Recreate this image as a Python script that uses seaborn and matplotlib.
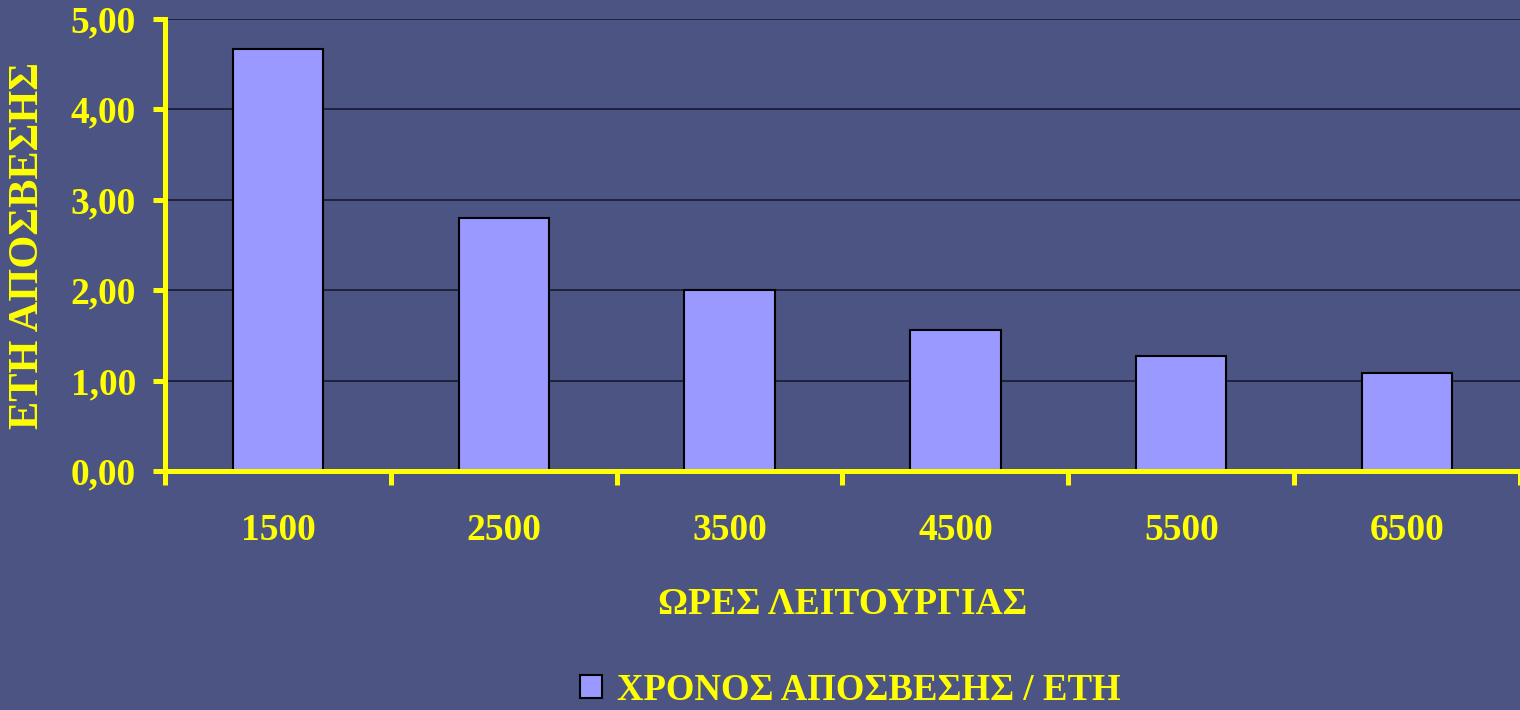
import numpy as np
import pandas as pd
import matplotlib
matplotlib.use("Agg")
import matplotlib.pyplot as plt
import seaborn as sns

# data
hours = ["1500", "2500", "3500", "4500", "5500", "6500"]
years = [4.67, 2.80, 2.00, 1.56, 1.27, 1.08]
series_name = "ΧΡΟΝΟΣ ΑΠΟΣΒΕΣΗΣ / ΕΤΗ"
x_title = "ΩΡΕΣ ΛΕΙΤΟΥΡΓΙΑΣ"
y_title = "ΕΤΗ ΑΠΟΣΒΕΣΗΣ"
y_ticks = [0, 1, 2, 3, 4, 5]

bg = "#4B5482"
bar_col = "#9999FF"
yellow = "#FFFF00"

sns.set_style("white")
plt.rcParams['font.family'] = ['Liberation Serif', 'DejaVu Serif']
plt.rcParams['font.weight'] = 'bold'

df = pd.DataFrame({"hours": hours, "years": years})

fig = plt.figure(figsize=(15.2, 7.1), dpi=100, facecolor=bg)
ax = fig.add_axes([165/1520, 1-471/710, 1-165/1520, (471-19)/710])
ax.set_facecolor(bg)

sns.barplot(data=df, x="hours", y="years", color=bar_col, saturation=1,
            edgecolor="black", linewidth=1.5, width=0.4, ax=ax, zorder=3)

ax.set_xlim(-0.5, 5.5)
ax.set_ylim(0, 5)
ax.set_yticks(y_ticks)
ax.set_yticklabels([f"{v:.2f}".replace(".", ",") for v in y_ticks])
ax.yaxis.grid(True, color="#15152a", linewidth=1.1, zorder=0)
ax.set_axisbelow(True)

for s in ["top", "right"]:
    ax.spines[s].set_visible(False)
for s in ["left", "bottom"]:
    ax.spines[s].set_color(yellow)
    ax.spines[s].set_linewidth(3.6)
    ax.spines[s].set_zorder(5)

# tick marks sit between categories, labels under the bars
ax.set_xticks(np.arange(-0.5, 6, 1), minor=True)
ax.tick_params(axis="x", which="both", bottom=True)
ax.tick_params(axis="y", which="both", left=True)
ax.tick_params(axis="x", which="major", length=0, pad=30, labelsize=27,
               labelcolor=yellow)
ax.tick_params(axis="x", which="minor", length=10, width=3.6, color=yellow,
               direction="out")
ax.tick_params(axis="y", length=9, width=3.6, color=yellow, pad=12,
               labelsize=27, labelcolor=yellow, direction="out")
for lab in ax.get_xticklabels() + ax.get_yticklabels():
    lab.set_fontweight("bold")

ax.set_xlabel(x_title, fontsize=27, fontweight="bold", color=yellow)
ax.xaxis.label.set_va("center")
ax.xaxis.set_label_coords(0.5, (471-605)/452)
ax.set_ylabel(y_title, fontsize=30.5, fontweight="bold", color=yellow)
ax.yaxis.set_label_coords((47-165)/1355, 0.5)

leg = fig.legend(handles=[ax.patches[0]], labels=[series_name],
                 loc="center", bbox_to_anchor=(850/1520, 1-690/710),
                 frameon=False, handlelength=0.6,
                 handleheight=0.6, handletextpad=0.4,
                 prop={"weight": "bold", "size": 26.5})
for t in leg.get_texts():
    t.set_color(yellow)

fig.savefig("out.png", dpi=100, facecolor=bg)
